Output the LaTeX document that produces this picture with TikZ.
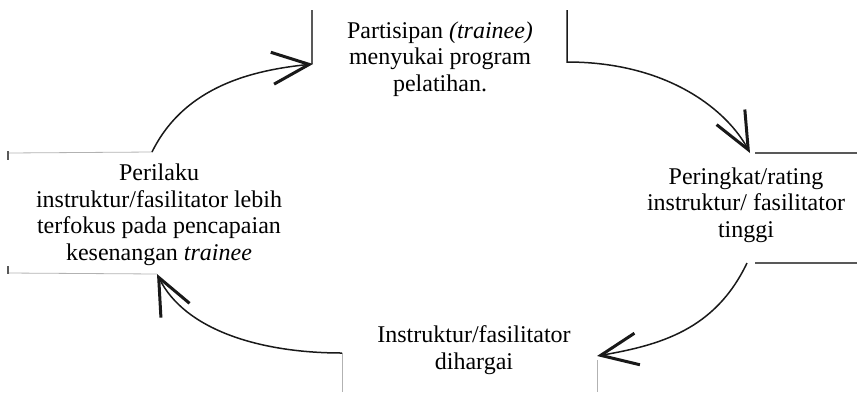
\documentclass[tikz,border=0pt]{standalone}
\usepackage{fontspec}
\setmainfont{Liberation Serif}
\usetikzlibrary{arrows.meta}
\begin{document}
\begin{tikzpicture}[x=1pt,y=-1pt,
  label/.style={align=center,text=black,font=\fontsize{24}{26.5}\selectfont,inner sep=0pt},
  flow/.style={draw=black!90,line width=1.5pt,
    -{Straight Barb[length=37pt,width=32pt,line width=3pt]}},
  edge/.style={draw=black!65,line width=1.1pt},
  faint/.style={draw=black!30,line width=0.8pt}]
\useasboundingbox (0,0) rectangle (857,392);

% text blocks
\node[label] (T) at (440,59) {Partisipan \textit{(trainee)}\\menyukai program\\pelatihan.};
\node[label] (R) at (746,205) {Peringkat/rating\\instruktur/ fasilitator\\tinggi};
\node[label] (B) at (474,350) {Instruktur/fasilitator\\dihargai};
\node[label] (L) at (159,215) {Perilaku\\instruktur/fasilitator lebih\\terfokus pada pencapaian\\kesenangan \textit{trainee}};

% corners of the boxes where the arrows meet
\coordinate (T-tl) at (312,10);
\coordinate (T-in) at (313,64);
\coordinate (T-tr) at (567,10);
\coordinate (T-out) at (567,62);
\coordinate (R-in) at (750,153);
\coordinate (R-out) at (747,263);
\coordinate (B-in) at (597,356);
\coordinate (B-out) at (342,353);
\coordinate (L-in) at (157,274);
\coordinate (L-out) at (152,152);

% visible box edges
\draw[edge] (T-tl) -- (312,64);
\draw[edge] (755,153) -- (857,153);
\draw[edge] (755,263) -- (857,263);
\draw[faint] (B-out) -- (342,392);
\draw[faint] (597,360) -- (597,392);
\draw[faint] (8,153) -- (L-out);
\draw[faint] (8,273) -- (L-in);
\draw[edge] (8,151) -- (8,160);
\draw[edge] (8,266) -- (8,274);

% cycle arrows
\draw[flow] (T-tr) -- (T-out) .. controls (670,62) and (728,112) .. (R-in);
\draw[flow] (R-out) .. controls (715,330) and (660,345) .. (B-in);
\draw[flow] (B-out) .. controls (260,353) and (185,330) .. (L-in);
\draw[flow] (L-out) .. controls (185,85) and (255,70) .. (T-in);
\end{tikzpicture}
\end{document}
